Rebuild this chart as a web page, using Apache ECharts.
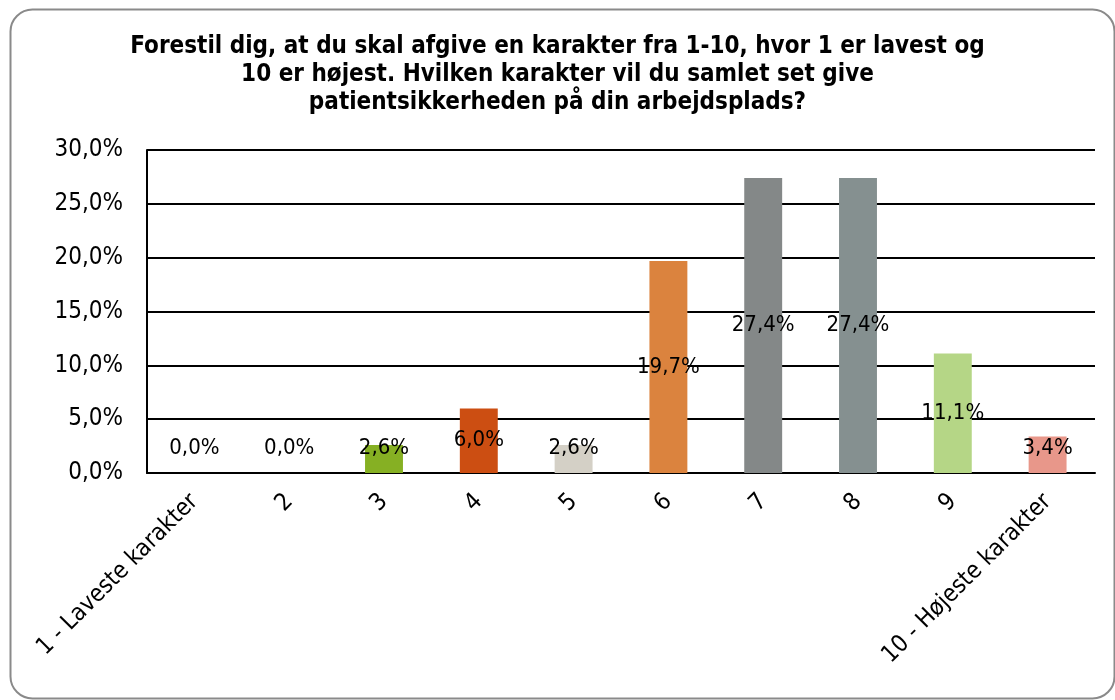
<!DOCTYPE html>
<html>
<head>
<meta charset="utf-8">
<script src="https://cdn.jsdelivr.net/npm/echarts@6/dist/echarts.min.js"></script>
<style>
  html, body { margin: 0; padding: 0; background: #fff; }
  #chart { width: 1115px; height: 700px; }
</style>
</head>
<body>
<div id="chart"></div>
<script>
// Survey answers: share of respondents per grade (percent)
const categories = ['1 - Laveste karakter', '2', '3', '4', '5', '6', '7', '8', '9', '10 - Højeste karakter'];
const shares = [0.0, 0.0, 2.6, 6.0, 2.6, 19.7, 27.4, 27.4, 11.1, 3.4];
const barColors = ['#8db32c', '#8db32c', '#86b023', '#cc4e12', '#d4d0c6', '#db833e', '#848888', '#859090', '#b5d686', '#e8978a'];
const yTicks = { min: 0, max: 30, interval: 5 };
const titleText = 'Forestil dig, at du skal afgive en karakter fra 1-10, hvor 1 er lavest og\n10 er højest. Hvilken karakter vil du samlet set give\npatientsikkerheden på din arbejdsplads?';

const FONT = "'DejaVu Sans Condensed', 'DejaVu Sans'";
const pct = v => v.toFixed(1).replace('.', ',') + '%';

const chart = echarts.init(document.getElementById('chart'), null, { renderer: 'canvas' });

chart.setOption({
  animation: false,
  backgroundColor: '#ffffff',
  textStyle: { fontFamily: FONT },
  graphic: [{
    type: 'rect',
    left: 8, top: 7,
    shape: { width: 1104, height: 689, r: 22 },
    style: { fill: 'none', stroke: '#8a8a8a', lineWidth: 2 },
    silent: true
  }],
  title: {
    text: titleText,
    left: 'center',
    top: 33,
    padding: 0,
    textStyle: { fontFamily: FONT, fontSize: 24, fontWeight: 'bold', color: '#000', lineHeight: 28 }
  },
  grid: { left: 147, right: 20, top: 150, bottom: 227 },
  xAxis: {
    type: 'category',
    data: categories,
    axisLine: { lineStyle: { color: '#000', width: 2 } },
    axisTick: { show: false },
    axisLabel: { rotate: 45, interval: 0, fontFamily: FONT, fontSize: 24, color: '#000', margin: 25 }
  },
  yAxis: {
    type: 'value',
    min: yTicks.min, max: yTicks.max, interval: yTicks.interval,
    axisLine: { show: true, lineStyle: { color: '#000', width: 2 } },
    axisTick: { show: false },
    splitLine: { lineStyle: { color: '#000', width: 2 } },
    axisLabel: { formatter: v => pct(v), fontFamily: FONT, fontSize: 24, color: '#000', margin: 24 }
  },
  series: [{
    type: 'bar',
    barWidth: '40%',
    data: shares.map((v, i) => ({
      value: v,
      itemStyle: { color: barColors[i] },
      // short bars: keep the value text clear of the axis line
      label: v < 5 ? { position: 'insideBottom', distance: 14 } : { position: 'inside' }
    })),
    label: {
      show: true,
      formatter: p => pct(p.value),
      fontFamily: FONT, fontSize: 22, color: '#000'
    }
  }]
});
</script>
</body>
</html>
